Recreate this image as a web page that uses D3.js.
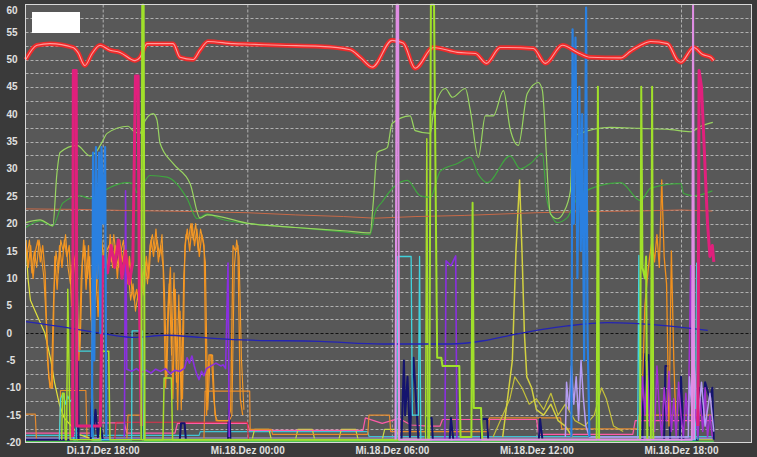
<!DOCTYPE html>
<html><head><meta charset="utf-8">
<script src="https://cdn.jsdelivr.net/npm/d3@7"></script>
<style>
html,body{margin:0;padding:0;background:#3a3a3a;}
svg{display:block;}
</style></head><body>
<svg id="c" width="757" height="457"></svg>
<script>
// ---------- DATA (time = hours since Di.17.Dez 00:00, values in °C) ----------
const xTickHours = [18, 24, 30, 36, 42];
const yTickLabels = [60, 55, 50, 45, 40, 35, 30, 25, 20, 15, 10, 5, 0, -5, -10, -15, -20];
const timeDomain = [14.796, 44.925];
const valueDomain = [-20, 60];

const redLine = [[14.81,50.0],[15.27,52.6],[15.81,52.9],[16.77,52.2],[16.97,51.3],[17.26,48.9],[17.56,51.1],[17.89,52.6],[18.30,51.7],[18.72,51.3],[19.34,49.8],[19.55,50.4],[19.84,52.9],[20.92,52.9],[21.21,50.4],[21.75,50.0],[22.04,51.7],[22.37,53.3],[23.41,52.9],[24.12,52.8],[25.36,52.6],[27.03,52.4],[28.27,51.8],[28.69,50.4],[29.19,48.6],[30.01,53.5],[30.47,53.0],[30.97,48.4],[31.72,52.2],[32.72,51.3],[33.47,51.1],[33.92,49.3],[34.50,52.2],[35.87,52.0],[36.37,49.3],[37.08,52.6],[37.70,51.3],[38.24,50.4],[39.5,50.3],[39.9,51.5],[40.32,52.6],[40.74,53.3],[41.44,52.9],[41.86,49.8],[41.99,49.5],[42.53,52.2],[42.9,50.9],[43.24,50.4],[43.36,49.8]];

const lightGreen = [[14.81,20.2],[15.4,20.7],[15.93,19.6],[16.10,29.2],[16.23,33.0],[16.93,34.3],[17.47,32.4],[17.76,33.3],[18.01,35.2],[18.18,36.5],[19.05,37.8],[19.26,37.0],[19.55,36.5],[19.67,38.0],[20.09,40.1],[20.25,39.0],[20.38,34.7],[20.92,31.0],[21.63,27.3],[22.04,21.0],[22.33,21.6],[24.12,20.0],[26.0,19.3],[28.0,18.7],[29.1,18.3],[29.23,24],[29.39,33.0],[29.81,33.9],[30.01,38.3],[30.76,39.7],[30.97,37.0],[31.60,36.5],[31.72,40.1],[32.22,44.7],[32.51,43.1],[33.05,44.7],[33.26,40.6],[33.59,32.1],[33.88,39.7],[34.21,39.7],[34.63,44.3],[34.91,37.3],[35.25,34.3],[35.62,43.8],[36.08,45.8],[36.24,44.5],[36.58,21.8],[36.87,20.9],[37.12,22.0],[37.41,26.0],[37.49,35.8],[37.82,36.5],[39.07,37.6],[40.32,37.4],[41.57,37.2],[42.40,36.8],[42.82,37.8],[43.32,38.5]];

const darkGreen = [[14.81,19.3],[15.4,20.5],[15.93,19.6],[16.35,23.8],[17.06,25.1],[17.47,24.6],[17.89,25.5],[18.30,26.6],[19.01,27.5],[19.26,27.3],[19.42,25.7],[19.96,28.8],[20.67,28.5],[21.50,24.6],[21.92,20.9],[22.33,21.8],[22.87,20.9],[24.12,20.0],[26,19.3],[28,18.5],[29.1,18.0],[29.3,22],[29.6,24],[30.06,26.6],[30.64,27.9],[31.18,25.1],[31.60,24.8],[32.01,29.6],[32.72,31.0],[33.26,32.1],[33.59,29.0],[33.96,27.5],[34.91,32.4],[35.33,30.0],[35.75,31.0],[36.24,32.8],[36.45,24],[36.87,20.2],[37.28,21.1],[37.53,23.3],[37.82,25.5],[39.49,27.5],[40.32,24.2],[40.74,26.5],[41.99,27.3],[42.11,25.5],[42.53,25.1],[43.3,26]];

const brownLine = [[14.81,22.7],[17,22.6],[19,22.4],[22,22.2],[24,22.0],[26,21.6],[28,21.3],[29.3,21.0],[31,21.3],[33,21.5],[36,22.0],[38,22.2],[40,22.3],[42,22.5],[43.3,22.3]];

const navyLine = [[14.81,2.1],[16.52,1.0],[17.89,0],[19.26,-0.8],[20.67,-0.4],[22.04,-0.8],[24.12,-1.3],[27,-1.5],[29.64,-2.0],[32.43,-2.0],[33.80,-1.4],[34.91,-0.4],[37.28,1.3],[38.95,1.9],[41.44,1.3],[43.11,0.5]];

const orangeLeftStart = 14.81, orangeLeftStep = 0.1;
const orangeLeft = [17,12,16,10,15,17,13,16,11,-5,-10,-10,14,8,16,12,17,14,16,5,13,15,-5,10,17,8,16,3,0,12,3,15,13,17,11,18,12,16,10,17,13,16,9,14,8,6,8,5,12,7,14,10,17,14,19,13,16,12,-10,5,12,-12,8,-14,4,-12,16,19,15,20,16,19,14,18,16,-15,-4,-4,-12,-16,-16,-16,-16,-16,-16,-14,16,15,16,-12,-15];
const orangeLeft2Start = 14.86, orangeLeft2Step = 0.1;
const orangeLeft2 = [14,17,11,15,12,17,14,10,2,-8,-10,6,15,11,17,15,18,12,9,14,12,2,-3,13,16,10,14,-2,5,9,14,17,12,15,16,13,18,14,12,15,17,12,11,6,9,4,7,3,10,13,9,16,18,15,17,14,18,8,-8,9,-4,11,-9,7,-14,10,18,17,20,17,20,15,19,17,13,-14,-4,-4,-15,-16,-16,-16,-16,-16,-16,-15,12,17,14,-5,-14];
const orangeRightStart = 40.3, orangeRightStep = 0.1;
const orangeRight = [-16,-10,5,10,14,17,13,18,12,28,14,9,-17,15,-5,-18];

const magentaLine = [[16.75,-19],[16.78,48],[16.90,48],[16.93,-17],[17.9,-17],[18.0,14],[18.2,11],[18.35,16],[18.5,12],[18.65,17],[18.8,10],[18.95,15],[19.1,9],[19.25,13],[19.36,47],[19.47,47],[19.52,8],[19.6,-17]];
const magentaRight = [[42.7,-17],[42.75,48],[42.85,45],[43.0,30],[43.1,20],[43.2,14],[43.3,16],[43.36,13]];

const blueLeft = [[17.55,-19],[17.6,33],[17.65,-5],[17.72,34],[17.78,10],[17.85,33],[17.9,0],[17.95,34],[18.02,20],[18.1,34],[18.15,-19]];
const blueRight = [[37.45,-19],[37.5,55.5],[37.55,20],[37.62,54],[37.7,10],[37.78,45],[37.84,15],[37.9,40],[37.98,-5],[38.06,59.5],[38.12,0],[38.2,-19]];

const limeSpikes = [[19.6,-19.5],[19.64,60],[19.7,60],[19.74,-19.5],[31.55,-19.5],[31.62,60],[31.75,60],[31.82,25],[31.88,-4.5],[32.05,-4.5],[32.1,-6],[32.8,-6],[32.85,-19],[33.3,-19],[33.35,23.8],[33.4,-13.7],[33.7,-13.7],[33.75,-19.5],[38.5,-19.5],[38.55,45],[38.6,-19.5],[40.3,-19.5],[40.35,45],[40.4,12],[40.5,10],[40.55,14],[40.6,-19.5],[40.75,-19.5],[40.8,45],[40.85,-19.5]];
const limeLow = [[16.3,-19.5],[16.33,-11],[16.4,-11],[16.45,-19.5],[16.5,-19.5],[16.55,8],[16.65,-19.5],[17.9,-19.5],[17.95,-3.3],[18.25,-3.3],[18.3,-19.5],[20.5,-19.5],[20.55,-8.2],[20.85,-8.2],[20.9,-19.5],[31.4,-19.5],[31.45,35.5],[31.5,-19.5]];

const violetSpikes = [[30.15,-19.5],[30.2,60],[30.26,60],[30.3,-19.5],[42.45,-19.5],[42.5,60],[42.55,-19.5]];

const purpleLine = [[18.9,-19],[18.95,26],[19.0,-6.6],[19.2,-7],[19.4,-6.5],[19.6,-7.2],[19.8,-6.8],[20.0,-7.3],[20.2,-6.6],[20.4,-7.0],[20.6,-6.5],[20.8,-7.4],[21.0,-6.8],[21.2,-7.0],[21.4,-6.4],[21.5,-4.5],[21.6,-5.5],[21.7,-4.2],[21.8,-6],[21.9,-7.5],[22.0,-8.5],[22.1,-7],[22.2,-7.8],[22.3,-6.5],[22.5,-6],[22.7,-5.5],[22.9,-6],[23.0,-5.8],[23.1,-6.5],[23.2,12.8],[23.25,-19]];
const purpleMid = [[32.2,-19.5],[32.25,13.2],[32.45,12.3],[32.65,14.1],[32.7,-19.5]];
const purpleRightStart = 40.3, purpleRightStep = 0.1;
const purpleRight = [-19,-8,-15,-5,-17,-12,-18,-6,-14,-19,-10,-16,-7,-18,-12,-19,-9,-15,-19,-11,-17,12.3,-19,-14,-19,-12,-18,-10,-19,-15,-19];

const cyanLine = [[16.2,-19.5],[16.25,-12],[16.35,-11],[16.45,-13],[16.55,-11.5],[16.65,-12.5],[16.75,-12],[16.8,-19.5],[16.9,-19.5],[16.93,17.8],[16.97,-3.3],[17.55,-3.3],[17.6,-19.5],[19.2,-19.5],[19.22,0.4],[19.65,0.4],[19.7,-19.5],[30.2,-19.5],[30.25,14],[30.8,14],[30.85,-15],[31.1,-15],[31.15,14],[31.2,-19.5],[40.2,-19.5],[40.25,14.2],[40.3,-19.5],[42.6,-19.5],[42.65,12.8],[42.7,-19.5]];

const navySpikes = [[14.81,-19.5],[16.9,-19.5],[16.95,0],[17.0,-19.5],[17.5,-19.5],[17.55,-12],[17.6,-19],[17.7,-14],[17.8,-19],[17.9,-16],[18.0,-19.5],[19.6,-19.5],[19.65,-8],[19.7,-19.5],[21.2,-19.5],[21.25,-16.5],[21.4,-16.5],[21.45,-19.5],[23.2,-19.5],[23.25,-12.4],[23.3,-19.5],[30.4,-19.5],[30.5,-5],[30.55,-15],[30.65,-8],[30.75,-19],[30.9,-4.5],[31.0,-12],[31.1,-19.5],[31.4,-19.5],[31.45,-15.5],[31.65,-15.5],[31.7,-19.5],[32.4,-19.5],[32.45,-15.5],[32.55,-19.5],[33.7,-19.5],[33.75,-15.7],[33.95,-15.7],[34.0,-19.5],[36.1,-19.5],[36.15,-15.7],[36.25,-19.5],[40.4,-19.5],[40.45,-3.8],[40.55,-12],[40.65,-4],[40.75,-19.5],[41.3,-19.5],[41.35,-6],[41.5,-6],[41.55,-19.5],[41.95,-19.5],[42.0,-8],[42.1,-19.5],[42.7,-19.5],[42.75,-10],[42.9,-15],[43.0,-9],[43.2,-12],[43.3,-10],[43.36,-19.5]];

const yellowLeft = [[14.81,17],[14.9,10],[15.0,6],[15.3,3],[15.6,0],[15.85,-5],[16.0,-9],[16.2,-13],[16.4,-15.5],[16.7,-17],[17.0,-18.5],[17.5,-19.3]];
const oliveA = [[34.6,-19],[34.8,-12],[35.0,-5],[35.15,15],[35.3,28],[35.4,15],[35.5,0],[35.6,-8],[35.8,-10],[36.0,-14],[36.3,-15],[36.6,-13],[36.9,-16],[37.2,-17],[37.5,-19]];
const oliveB = [[34.2,-19],[34.6,-15],[34.9,-12],[35.1,-8],[35.4,-10],[35.7,-13],[36.0,-12],[36.3,-14],[36.6,-11],[36.9,-15],[37.2,-13],[37.6,-16],[38.0,-17],[38.4,-15],[38.7,-10],[38.9,-12],[39.2,-17],[39.6,-18]];

const lavenderLine = [[37.2,-19],[37.25,-9],[37.35,-14],[37.45,-6],[37.55,-13],[37.65,-8],[37.75,-16],[37.85,-5],[37.95,-12],[38.05,-17],[38.2,-19],[42.3,-19],[42.35,-8],[42.45,-14],[42.55,-6],[42.7,-16],[42.85,-9],[43.0,-17],[43.2,-11],[43.36,-18]];

const cyanBottom = [[14.81,-18.7],[22,-18.7],[22.05,-18.0],[29,-18.0],[29.05,-18.9],[43.36,-18.9]];
const lavBottom = [[14.81,-19.2],[43.36,-19.2]];
const greenBottom = [[14.81,-19.8],[43.36,-19.8]];
const humpLine = [[14.81,-19.5],[24.2,-19.5],[24.3,-17.6],[24.9,-17.6],[25.0,-19.5],[26.0,-19.5],[26.1,-17.6],[26.7,-17.6],[26.8,-19.5],[27.8,-19.5],[27.9,-17.6],[28.5,-17.6],[28.6,-19.5],[29.6,-19.5],[29.7,-17.6],[30.2,-17.6],[30.3,-19.5],[43.36,-19.5]];
const pinkBottom = [[14.81,-18.3],[17.5,-18.3],[17.55,-16.4],[18.9,-16.4],[19.0,-18.3],[21.0,-18.3],[21.1,-16.5],[24,-16.5],[24.1,-17.8],[28.8,-17.8],[28.9,-15.5],[29.6,-16.5],[30.3,-15.6],[30.8,-16.8],[31.5,-17],[32,-17],[32.1,-15.8],[36,-15.8],[36.1,-18.5],[40,-18.5],[40.1,-16],[43.36,-16]];
const orangeBottom = [[14.81,-14.8],[15.2,-14.8],[15.25,-19.5],[16.2,-19.5],[16.25,-10.5],[17.3,-10.5],[17.35,-19.5],[19.0,-19.5],[19.05,-15],[19.7,-15],[19.75,-19.5],[22.2,-19.5],[22.25,-10.6],[24.1,-10.6],[24.12,-17.6],[25.0,-17.6],[25.05,-18.5],[29.0,-18.5],[29.05,-15],[29.9,-15],[29.95,-18],[34,-18],[34.05,-15.5],[37,-15.5],[37.05,-17.5],[40.2,-17.5],[40.25,-15],[43.36,-15]];
const crimsonBottom = [[18.5,-19.5],[18.55,-16.3],[24.0,-16.3],[24.05,-19.5]];

// ---------- CHART ----------
const W = 757, H = 457;
const base = new Date(2019, 11, 17, 0, 0, 0);
const toDate = h => new Date(base.getTime() + h * 3600e3);
const plotTop = 4.5, plotBottom = 442.5, plotLeft = 25.5, plotRight = 751.5;
const x = d3.scaleTime().domain(timeDomain.map(toDate)).range([plotLeft, plotRight]);
const y = d3.scaleLinear().domain(valueDomain).range([plotBottom, 4.8]);

const svg = d3.select('#c');
svg.append('rect').attr('width', W).attr('height', H).attr('fill', '#3a3a3a');
svg.append('rect').attr('x', plotLeft).attr('y', plotTop).attr('width', plotRight - plotLeft).attr('height', plotBottom - plotTop).attr('fill', '#585858');

// horizontal grid every 2.5
const gridVals = d3.range(-17.5, 60, 2.5);
svg.append('g').selectAll('line').data(gridVals).join('line')
  .attr('x1', plotLeft).attr('x2', plotRight)
  .attr('y1', d => Math.round(y(d)) + 0.5).attr('y2', d => Math.round(y(d)) + 0.5)
  .attr('stroke', d => d === 0 ? '#111' : '#b0b0b0')
  .attr('stroke-width', 1)
  .attr('stroke-dasharray', '3,2');

// vertical grid via axis
const xAxis = d3.axisBottom(x)
  .tickValues(xTickHours.map(toDate))
  .tickSize(-(plotBottom - plotTop))
  .tickFormat(d => {
    const wd = ['So','Mo','Di','Mi','Do','Fr','Sa'][d.getDay()];
    const mo = ['Jan','Feb','Mär','Apr','Mai','Jun','Jul','Aug','Sep','Okt','Nov','Dez'][d.getMonth()];
    const hh = String(d.getHours()).padStart(2, '0'), mm = String(d.getMinutes()).padStart(2, '0');
    return `${wd}.${d.getDate()}.${mo} ${hh}:${mm}`;
  });
const gx = svg.append('g').attr('transform', `translate(0,${plotBottom})`).call(xAxis);
gx.select('.domain').remove();
gx.selectAll('line').attr('stroke', '#b0b0b0').attr('stroke-dasharray', '3,2');
gx.selectAll('text').attr('fill', '#e0e0e0').attr('font-family', 'Liberation Sans, Arial, sans-serif')
  .attr('font-size', '10px').attr('font-weight', 'bold').attr('dy', 0).attr('y', 11.5);

// y labels
svg.append('g').selectAll('text').data(yTickLabels).join('text')
  .attr('x', 6.5).attr('y', d => Math.max(y(d), 10) + 3.5)
  .attr('fill', '#e0e0e0').attr('font-family', 'Liberation Sans, Arial, sans-serif')
  .attr('font-size', '10px').attr('font-weight', 'bold')
  .text(d => d);

// series
const line = d3.line().x(d => x(toDate(d[0]))).y(d => y(d[1]));
const smooth = d3.line().x(d => x(toDate(d[0]))).y(d => y(d[1])).curve(d3.curveMonotoneX);
const sampled = (start, step, vals) => vals.map((v, i) => [start + i * step, v]);

const g = svg.append('g');
function draw(data, color, width, gen = line, opacity = 1) {
  g.append('path').attr('d', gen(data)).attr('fill', 'none').attr('stroke', color)
    .attr('stroke-width', width).attr('stroke-linejoin', 'round').attr('opacity', opacity);
}
draw(greenBottom, '#4fc24f', 1.2);
draw(lavBottom, '#a797ee', 1.2);
draw(cyanBottom, '#3fc4d4', 1.2);
draw(humpLine, '#c8dc46', 1.2);
draw(pinkBottom, '#ff5aa8', 1.2);
draw(orangeBottom, '#e48a2e', 1.2);
draw(crimsonBottom, '#e0304a', 1.2);
draw(yellowLeft, '#e2e23a', 1.2);
draw(oliveB, '#c4c03a', 1.2);
draw(oliveA, '#d2d040', 1.5);
draw(navySpikes, '#14146e', 2);
draw(sampled(orangeLeftStart, orangeLeftStep, orangeLeft), '#f0901e', 1.3);
draw(sampled(orangeLeft2Start, orangeLeft2Step, orangeLeft2), '#f39a28', 1.1);
draw(sampled(orangeRightStart, orangeRightStep, orangeRight), '#f0901e', 1.3);
draw(cyanLine, '#40d2dc', 1.3);
draw(purpleLine, '#8a2fe0', 1.6);
draw(purpleMid, '#8a2fe0', 1.6);
draw(sampled(purpleRightStart, purpleRightStep, purpleRight), '#a030d0', 1.5);
draw(lavenderLine, '#b49cf2', 1.5);
draw(limeLow, '#a6dc2a', 1.5);
draw(brownLine, '#c86a48', 1);
draw(darkGreen, '#3fa63f', 1.2, smooth);
draw(lightGreen, '#98d460', 1.2, smooth);
draw(navyLine, '#2424b4', 1.3, smooth);
draw(magentaLine, '#e0207c', 3);
draw(magentaRight, '#e0207c', 3);
draw(blueLeft, '#2a80e0', 2.2);
draw(blueRight, '#2a80e0', 2.2);
draw(redLine, '#ee2a2a', 4.5, smooth);
draw(redLine, '#ff9c9c', 1.1, smooth);
draw(limeSpikes, '#a0e02a', 2);
draw(violetSpikes, '#e08ee4', 2);

// frame
svg.append('rect').attr('x', plotLeft).attr('y', plotTop).attr('width', plotRight - plotLeft).attr('height', plotBottom - plotTop)
  .attr('fill', 'none').attr('stroke', '#d8d8d8').attr('stroke-width', 1);
// legend box
svg.append('rect').attr('x', 32).attr('y', 12).attr('width', 48).attr('height', 21).attr('fill', '#ffffff');
</script>
</body></html>
